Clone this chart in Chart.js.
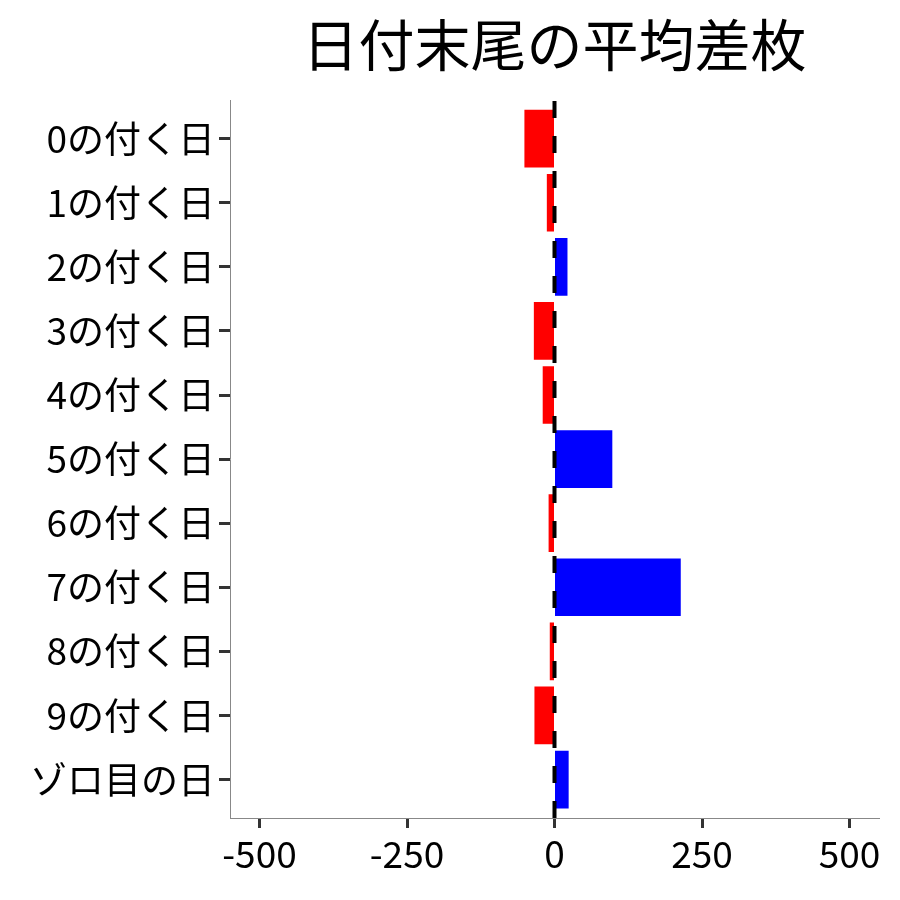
<!DOCTYPE html>
<html>
<head>
<meta charset="utf-8">
<script src="https://cdn.jsdelivr.net/npm/chart.js@4.4.1/dist/chart.umd.min.js"></script>
<style>
  html, body { margin: 0; padding: 0; background: #fff; }
  #wrap { width: 900px; height: 900px; }
</style>
</head>
<body>
<div id="wrap"><canvas id="diff_chart" width="900" height="900"></canvas></div>
<script>
// 日付末尾ごとの平均差枚
const labels = ['0の付く日', '1の付く日', '2の付く日', '3の付く日', '4の付く日',
                '5の付く日', '6の付く日', '7の付く日', '8の付く日', '9の付く日', 'ゾロ目の日'];
const values = [-51, -13, 22, -35, -20, 98, -10, 214, -8, -34, 24];
const xTicks = [-500, -250, 0, 250, 500];

const FONT = '"Noto Sans CJK JP", "Noto Sans", sans-serif';

// zero line, dashed, drawn on top of the bars
const zeroLine = {
    id: 'zeroLine',
    afterDatasetsDraw(chart) {
        let ctx = chart.ctx;
        let x = chart.scales.x.getPixelForValue(0);
        let area = chart.chartArea;
        ctx.save();
        ctx.strokeStyle = '#000';
        ctx.lineWidth = 4;
        ctx.setLineDash([17, 18]);
        ctx.beginPath();
        ctx.moveTo(x, area.bottom);
        ctx.lineTo(x, area.top);
        ctx.stroke();
        ctx.restore();
    }
};

let data = {
    datasets: [{
        data: values.map((v, i) => ({x: v, y: i})),
        backgroundColor: values.map(v => v < 0 ? '#ff0000' : '#0000ff'),
        borderWidth: 0,
        categoryPercentage: 1,
        barPercentage: 0.9
    }]
};

let options = {
    indexAxis: 'y',
    responsive: false,
    animation: false,
    layout: { padding: { top: 0, right: 21, bottom: 0, left: 0 } },
    plugins: {
        legend: { display: false },
        tooltip: { enabled: false },
        title: {
            display: true,
            fullSize: false,
            text: '日付末尾の平均差枚',
            color: '#000',
            font: { family: FONT, size: 56, weight: 'normal', lineHeight: 1.2 },
            padding: { top: 11, bottom: 22 }
        }
    },
    scales: {
        x: {
            type: 'linear',
            min: -550,
            max: 550,
            afterBuildTicks(scale) {
                scale.ticks = xTicks.map(v => ({value: v}));
            },
            afterFit(scale) { scale.height = 82; },
            grid: { drawOnChartArea: false, tickLength: 10, tickWidth: 3, tickColor: '#333' },
            border: { color: '#888', width: 1 },
            ticks: {
                color: '#000',
                padding: 4,
                font: { family: FONT, size: 37 }
            }
        },
        y: {
            type: 'linear',
            reverse: true,
            offset: false,
            min: -0.6,
            max: 10.6,
            afterBuildTicks(scale) {
                scale.ticks = labels.map((_, i) => ({value: i}));
            },
            afterFit(scale) { scale.width = 230; },
            grid: { offset: false, drawOnChartArea: false, tickLength: 11, tickWidth: 3, tickColor: '#333' },
            border: { color: '#888', width: 1 },
            ticks: {
                color: '#000',
                padding: 4,
                font: { family: FONT, size: 37 },
                callback: v => labels[v]
            }
        }
    }
};

new Chart(document.getElementById('diff_chart'), {
    type: 'bar',
    data: data,
    options: options,
    plugins: [zeroLine]
});
</script>
</body>
</html>
